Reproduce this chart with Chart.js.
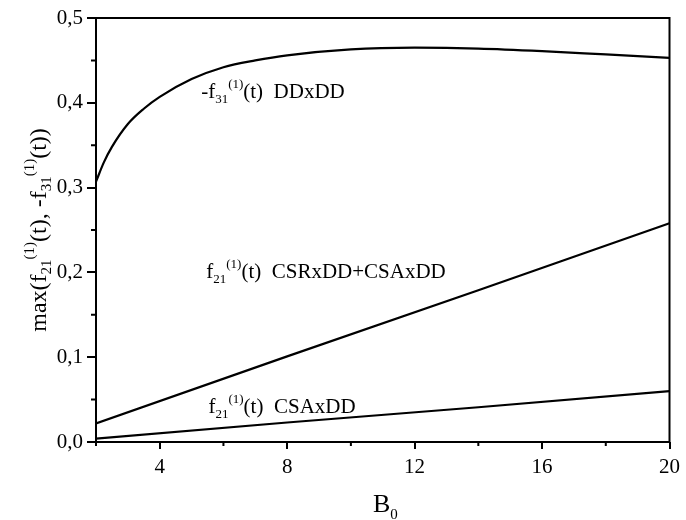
<!DOCTYPE html>
<html>
<head>
<meta charset="utf-8">
<script src="https://cdn.jsdelivr.net/npm/chart.js@4.4.1/dist/chart.umd.min.js"></script>
<style>
html, body { margin: 0; padding: 0; background: #fff; }
</style>
</head>
<body>
<canvas id="chart" width="686" height="520"></canvas>
<script>
// values
const dipB = [2, 2.25, 2.5, 3, 3.5, 4, 5, 6, 7, 8, 10, 12, 14, 16, 18, 20];
const dipDD = [0.307, 0.330, 0.348, 0.375, 0.393, 0.407, 0.428, 0.442, 0.450, 0.456, 0.463, 0.465, 0.464, 0.461, 0.457, 0.453];
const linB = [2, 8, 14, 20];
const csrCsa = [0.022, 0.101, 0.179, 0.258];
const csaOnly = [0.004, 0.023, 0.041, 0.060];
const xTicks = [4, 8, 12, 16, 20];
const xMinor = [2, 6, 10, 14, 18];
const yTicks = [0, 0.1, 0.2, 0.3, 0.4, 0.5];
const yMinor = [0.05, 0.15, 0.25, 0.35, 0.45];

const serif = "'Liberation Serif', 'DejaVu Serif', serif";
const toPts = (xs, ys) => xs.map((x, i) => ({ x: x, y: ys[i] }));

// draws text with sub (1) and sup (2) pieces, returns end x
function richText(ctx, x, y, parts, f) {
    parts.forEach(([t, k]) => {
        ctx.font = (k ? f.small : f.size) + 'px ' + serif;
        const dy = k === 1 ? f.sub : (k === 2 ? f.sup : 0);
        ctx.fillText(t, x, y + dy);
        x += ctx.measureText(t).width;
    });
    return x;
}
function richWidth(ctx, parts, f) {
    let w = 0;
    parts.forEach(([t, k]) => {
        ctx.font = (k ? f.small : f.size) + 'px ' + serif;
        w += ctx.measureText(t).width;
    });
    return w;
}

const noteFont = { size: 21, small: 13, sub: 5, sup: -10 };
const notes = [
    { x: 5.3, y: 0.4056, parts: [['-f', 0], ['31', 1], ['(1)', 2], ['(t)  DDxDD', 0]] },
    { x: 5.46, y: 0.193, parts: [['f', 0], ['21', 1], ['(1)', 2], ['(t)  CSRxDD+CSAxDD', 0]] },
    { x: 5.53, y: 0.034, parts: [['f', 0], ['21', 1], ['(1)', 2], ['(t)  CSAxDD', 0]] }
];

const decor = {
    id: 'decor',
    afterDraw(chart) {
        const ctx = chart.ctx;
        const a = chart.chartArea;
        const xs = chart.scales.x, ys = chart.scales.y;
        ctx.save();
        ctx.strokeStyle = '#000';
        ctx.fillStyle = '#000';
        ctx.lineWidth = 2;
        ctx.strokeRect(a.left, a.top, a.right - a.left, a.bottom - a.top);

        // minor ticks
        ctx.beginPath();
        xMinor.forEach(v => {
            const px = xs.getPixelForValue(v);
            ctx.moveTo(px, a.bottom);
            ctx.lineTo(px, a.bottom + 4);
        });
        yMinor.forEach(v => {
            const py = ys.getPixelForValue(v);
            ctx.moveTo(a.left, py);
            ctx.lineTo(a.left - 5, py);
        });
        ctx.stroke();

        // curve labels
        ctx.textBaseline = 'alphabetic';
        ctx.textAlign = 'left';
        notes.forEach(n => {
            richText(ctx, xs.getPixelForValue(n.x), ys.getPixelForValue(n.y), n.parts, noteFont);
        });

        // x title
        richText(ctx, 373, 512, [['B', 0], ['0', 1]], { size: 26, small: 15, sub: 7, sup: 0 });

        // y title
        const yParts = [['max(f', 0], ['21', 1], ['(1)', 2], ['(t), -f', 0], ['31', 1], ['(1)', 2], ['(t))', 0]];
        const yf = { size: 24, small: 15, sub: 5, sup: -12 };
        const w = richWidth(ctx, yParts, yf);
        ctx.translate(46, (a.top + a.bottom) / 2);
        ctx.rotate(-Math.PI / 2);
        richText(ctx, -w / 2, 0, yParts, yf);
        ctx.restore();
    }
};

new Chart(document.getElementById('chart').getContext('2d'), {
    type: 'line',
    data: {
        datasets: [
            { data: toPts(dipB, dipDD), cubicInterpolationMode: 'monotone' },
            { data: toPts(linB, csrCsa) },
            { data: toPts(linB, csaOnly) }
        ]
    },
    options: {
        responsive: false,
        animation: false,
        layout: { padding: { top: 18, right: 12, left: 0, bottom: 0 } },
        elements: {
            line: { borderColor: '#000', borderWidth: 2.2, fill: false },
            point: { radius: 0 }
        },
        plugins: { legend: { display: false }, tooltip: { enabled: false } },
        scales: {
            x: {
                type: 'linear',
                min: 2,
                max: 20,
                afterBuildTicks: s => { s.ticks = xTicks.map(v => ({ value: v })); },
                afterFit: s => { s.height = 78; },
                grid: { drawOnChartArea: false, tickLength: 7, color: '#000', lineWidth: 2 },
                border: { display: false },
                ticks: {
                    color: '#000',
                    padding: 6,
                    font: { family: serif, size: 21 },
                    callback: v => String(v)
                }
            },
            y: {
                min: 0,
                max: 0.5,
                afterBuildTicks: s => { s.ticks = yTicks.map(v => ({ value: v })); },
                afterFit: s => { s.width = 96; },
                grid: { drawOnChartArea: false, tickLength: 9, color: '#000', lineWidth: 2 },
                border: { display: false },
                ticks: {
                    color: '#000',
                    padding: 4,
                    font: { family: serif, size: 21 },
                    callback: v => v.toFixed(1).replace('.', ',')
                }
            }
        }
    },
    plugins: [decor]
});
</script>
</body>
</html>
